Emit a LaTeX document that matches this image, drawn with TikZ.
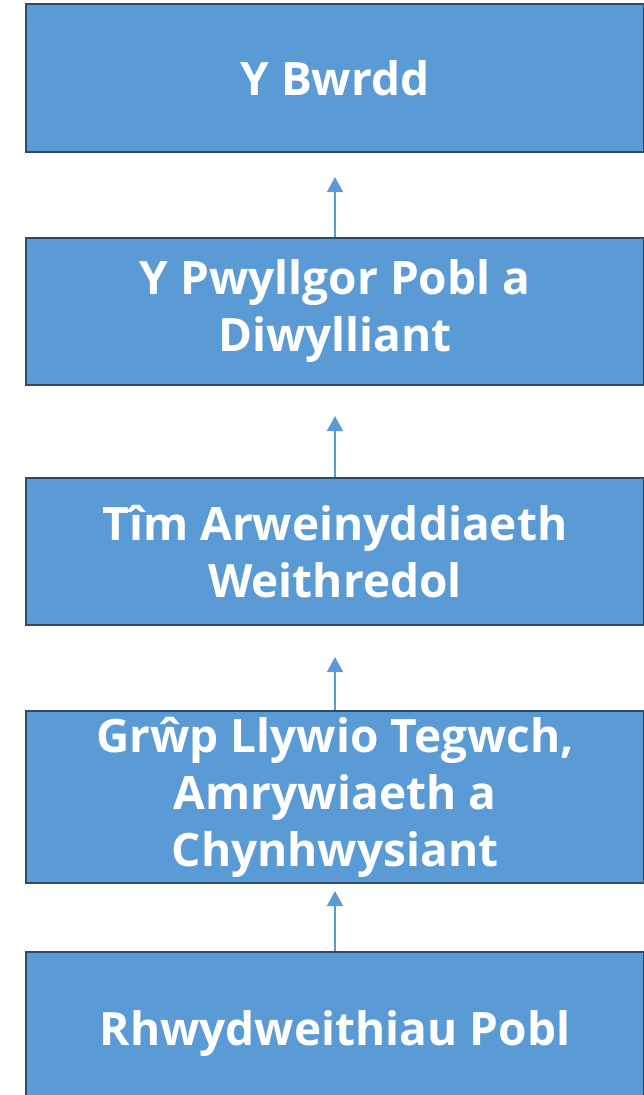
\documentclass[tikz,border=0pt]{standalone}
\usepackage{fontspec}
\setmainfont{Open Sans}
\usetikzlibrary{arrows.meta}
\definecolor{boxfill}{HTML}{5B9BD5}
\definecolor{boxline}{HTML}{2E4A6B}
\definecolor{arrowcol}{HTML}{5B9BD5}
\tikzset{
  orgbox/.style={draw=boxline, line width=2pt, fill=boxfill, rectangle,
    minimum width=618pt, inner sep=0pt, align=center, text=white,
    font=\fontsize{46}{57}\selectfont\bfseries},
  uparrow/.style={draw=arrowcol, line width=1.5pt,
    -{Triangle[width=16pt,length=15pt]}}
}
\begin{document}
\begin{tikzpicture}[x=1pt,y=-1pt]
\useasboundingbox (0,0) rectangle (644,1095);
\node[orgbox, minimum height=148pt] (b1) at (335,78) {Y Bwrdd};
\node[orgbox, minimum height=147pt] (b2) at (335,311.5) {Y Pwyllgor Pobl a\\Diwylliant};
\node[orgbox, minimum height=147pt] (b3) at (335,551.5) {Tîm Arweinyddiaeth\\Weithredol};
\node[orgbox, minimum height=172pt] (b4) at (335,797) {Grŵp Llywio Tegwch,\\Amrywiaeth a\\Chynhwysiant};
\node[orgbox, minimum height=164pt] (b5) at (335,1034) {Rhwydweithiau Pobl};
\coordinate (t1) at (335,177);
\coordinate (t2) at (335,416);
\coordinate (t3) at (335,657);
\coordinate (t4) at (335,891);
\draw[uparrow] (b2.north) -- (t1);
\draw[uparrow] (b3.north) -- (t2);
\draw[uparrow] (b4.north) -- (t3);
\draw[uparrow] (b5.north) -- (t4);
\end{tikzpicture}
\end{document}
